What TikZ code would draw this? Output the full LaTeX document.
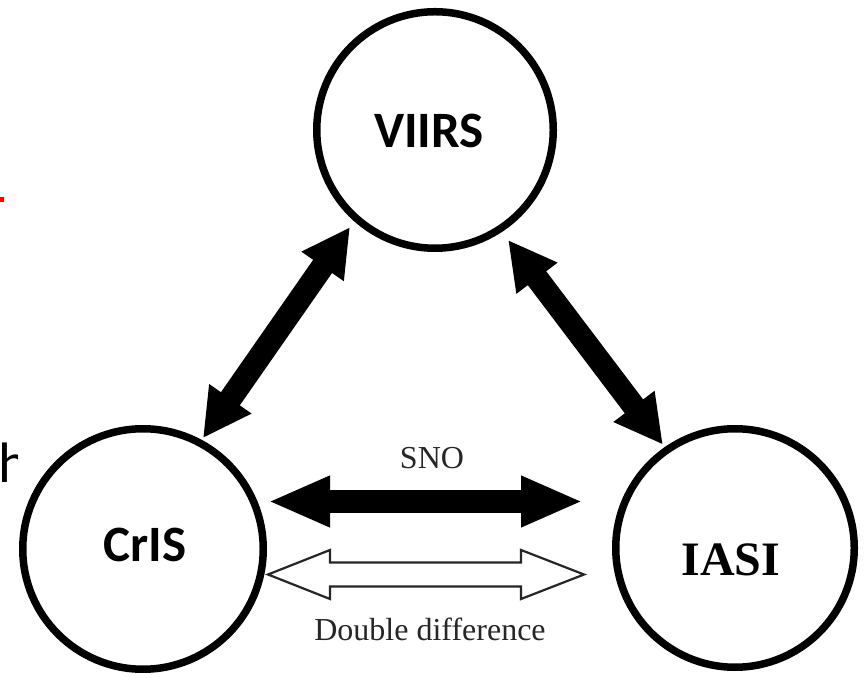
\documentclass[tikz,border=0pt]{standalone}
\usepackage{fontspec}
\newfontfamily\carlito{Carlito}
\newfontfamily\timesf{Liberation Serif}
\usetikzlibrary{arrows.meta,calc}
\tikzset{
  sat/.style={circle, draw=black, line width=7.5pt, fill=white, inner sep=0pt, minimum size=#1},
  sanslabel/.style={inner sep=0pt, font=\carlito\bfseries\fontsize{51}{60}\selectfont},
  seriflabel/.style={inner sep=0pt, text=black!85, font=\timesf\fontsize{32}{36}\selectfont},
  fatarrow/.style={line width=23pt, draw=black,
    {Triangle[length=#1 0 0,width=48pt 0 0]}-{Triangle[length=#1 0 0,width=48pt 0 0]}},
  hollowarrow/.style={draw=black!85, line width=2.2pt, fill=white, line join=miter}
}
\begin{document}
\begin{tikzpicture}[x=1pt,y=1pt]
\useasboundingbox (0,0) rectangle (866,677);
\fill[white] (0,0) rectangle (866,677);
% fragments of the surrounding page
\fill[red] (0,475) rectangle (4,480);
\begin{scope}
  \clip (0,150) rectangle (17,250);
  \node[anchor=base west, inner sep=0pt, font=\carlito\fontsize{57}{60}\selectfont] (frag) at (-1.5,194) {h};
\end{scope}
% instruments
\node[sat=236.5pt] (VIIRS) at (435,547) {};
\node[sat=240.5pt] (CrIS) at (143,128) {};
\node[sat=238.5pt] (IASI) at (735,129) {};
\node[sanslabel] (VIIRSt) at (429,546) {VIIRS};
\node[sanslabel] (CrISt) at (145,132) {CrIS};
\node[inner sep=0pt, font=\timesf\bfseries\fontsize{48}{54}\selectfont] (IASIt) at (731,117) {IASI};
% connector end points
\coordinate (vl) at ($(VIIRS.center)+(228.8:129)$);
\coordinate (cv) at ($(CrIS.center)+(61.6:126)$);
\coordinate (vr) at ($(VIIRS.center)+(303.6:132)$);
\coordinate (iv) at ($(IASI.center)+(124.9:126)$);
\coordinate (snoL) at (268,175.5);
\coordinate (snoR) at (583,175.5);
\coordinate (ddL) at (268,102.5);
\coordinate (ddR) at (584,102.5);
% arrows
\draw[fatarrow=48pt] (vl) -- (cv);
\draw[fatarrow=48pt] (vr) -- (iv);
\draw[line width=23pt, draw=black,
  {Triangle[length=62pt 0 0,width=47pt 0 0]}-{Triangle[length=62pt 0 0,width=47pt 0 0]}] (snoL) -- (snoR);
\draw[hollowarrow] (ddL) -- ++(62,24.5) -- ++(0,-12.5) -- ++(191,0) -- ++(0,12.5) -- (ddR)
  -- ++(-63,-24.5) -- ++(0,12.5) -- ++(-191,0) -- ++(0,-12.5) -- cycle;
% labels
\node[seriflabel, anchor=base] (sno) at (432,208) {SNO};
\node[seriflabel, anchor=base] (dd) at (430,37) {Double difference};
\end{tikzpicture}
\end{document}
